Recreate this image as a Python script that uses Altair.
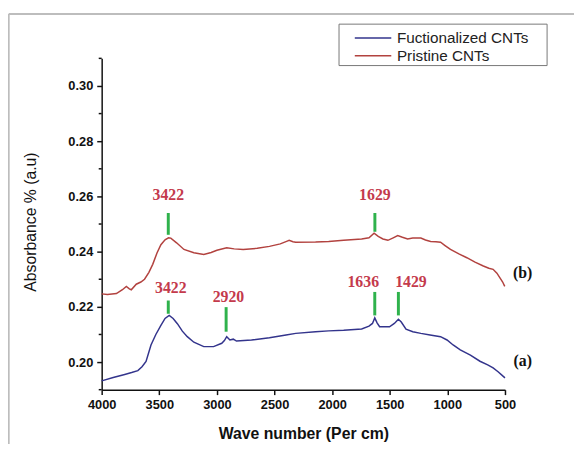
import altair as alt
import pandas as pd

# ---- data ----
red_w = [4000, 3950, 3872, 3820, 3786, 3760, 3743, 3700, 3660, 3628, 3590, 3557, 3520, 3486, 3450, 3420,
         3400, 3350, 3286, 3200, 3114, 3050, 3000, 2915, 2850, 2772, 2650, 2544, 2450, 2390, 2373, 2340,
         2316, 2144, 2030, 1900, 1744, 1680, 1636, 1600, 1559, 1516, 1470, 1431, 1390, 1345, 1300, 1230,
         1190, 1145, 1100, 1059, 1020, 973, 900, 831, 760, 688, 640, 603, 570, 545, 520, 502]
red_v = [0.2247, 0.2245, 0.2248, 0.2262, 0.2274, 0.2265, 0.2262, 0.2282, 0.2290, 0.2300, 0.2325, 0.2354,
         0.2395, 0.2425, 0.2443, 0.2450, 0.2449, 0.2432, 0.2408, 0.2396, 0.2390, 0.2397, 0.2405, 0.2414,
         0.2410, 0.2408, 0.2412, 0.2419, 0.2428, 0.2438, 0.2441, 0.2436, 0.2434, 0.2435, 0.2437, 0.2441,
         0.2446, 0.2450, 0.2467, 0.2455, 0.2446, 0.2441, 0.2450, 0.2458, 0.2452, 0.2446, 0.2449, 0.2449,
         0.2442, 0.2437, 0.2436, 0.2434, 0.2422, 0.2408, 0.2392, 0.2378, 0.2362, 0.2348, 0.2340, 0.2336,
         0.2322, 0.2306, 0.2290, 0.2274]

blue_w = [4000, 3900, 3800, 3740, 3686, 3650, 3615, 3572, 3530, 3486, 3450, 3414, 3380, 3343, 3300, 3257,
          3200, 3114, 3029, 2958, 2935, 2915, 2887, 2858, 2830, 2700, 2544, 2400, 2316, 2144, 2030, 1900,
          1744, 1680, 1650, 1630, 1610, 1588, 1502, 1460, 1425, 1400, 1359, 1300, 1230, 1150, 1059, 1003,
          950, 888, 800, 717, 650, 603, 560, 517, 500]
blue_v = [0.1932, 0.1944, 0.1955, 0.1962, 0.1969, 0.1983, 0.2002, 0.2062, 0.2100, 0.2133, 0.2158, 0.2169,
          0.2158, 0.2139, 0.2112, 0.2092, 0.2072, 0.2056, 0.2056, 0.2068, 0.2078, 0.2092, 0.2080, 0.2083,
          0.2076, 0.2080, 0.2088, 0.2098, 0.2104, 0.2110, 0.2113, 0.2115, 0.2120, 0.2130, 0.2140, 0.2160,
          0.2142, 0.2128, 0.2128, 0.2140, 0.2155, 0.2145, 0.2119, 0.2110, 0.2104, 0.2098, 0.2092, 0.2080,
          0.2062, 0.2044, 0.2025, 0.2003, 0.1990, 0.1979, 0.1965, 0.1949, 0.1943]

series_names = ["Fuctionalized CNTs", "Pristine CNTs"]
series_colors = ["#33348c", "#b2423f"]

# peak annotations
ann_text = ["3422", "1629", "3422", "2920", "1636", "1429"]
ann_w = [3422, 1629, 3422, 2920, 1630, 1425]
ann_lo = [0.2461, 0.2472, 0.2175, 0.2110, 0.2169, 0.2169]
ann_hi = [0.2540, 0.2540, 0.2223, 0.2199, 0.2254, 0.2254]
ann_label_w = [3422, 1629, 3400, 2900, 1730, 1316]
ann_label_v = [0.2604, 0.2604, 0.2267, 0.2235, 0.2291, 0.2291]

curve_tags = ["(b)", "(a)"]
curve_tag_w = [346, 346]
curve_tag_v = [0.2324, 0.2002]

x_ticks = [500, 750, 1000, 1250, 1500, 1750, 2000, 2250, 2500, 2750, 3000, 3250, 3500, 3750, 4000]
y_major = [0.20, 0.22, 0.24, 0.26, 0.28, 0.30]
y_minor = [0.19, 0.21, 0.23, 0.25, 0.27, 0.29, 0.31]

# ---- tables ----
curves = pd.concat([
    pd.DataFrame({"w": blue_w, "v": blue_v, "s": series_names[0], "o": range(len(blue_w))}),
    pd.DataFrame({"w": red_w, "v": red_v, "s": series_names[1], "o": range(len(red_w))}),
])
ann = pd.DataFrame({"t": ann_text, "w": ann_w, "lo": ann_lo, "hi": ann_hi,
                    "lw": ann_label_w, "lv": ann_label_v})
tags = pd.DataFrame({"t": curve_tags, "w": curve_tag_w, "v": curve_tag_v})
minor = pd.DataFrame({"m": y_minor})

SANS = "Liberation Sans"
SERIF = "Liberation Serif"
INK = "#111"

xscale = alt.Scale(domain=[4000, 500], nice=False, zero=False)
yscale = alt.Scale(domain=[0.19, 0.31], nice=False, zero=False)

x_axis = alt.Axis(
    values=x_ticks,
    labelExpr="datum.value % 500 === 0 ? datum.label : ''",
    format="d",
    tickSize={"condition": {"test": "datum.value % 500 !== 0", "value": 3}, "value": 5},
    title="Wave number (Per cm)",
    titleX=204.5, titleY=45, titleAlign="center", titleBaseline="middle",
    titleFont=SANS, titleFontSize=16, titleFontWeight="bold", titleColor=INK,
    labelFont=SANS, labelFontSize=13, labelFontWeight="bold", labelColor=INK,
    labelPadding=4, domainColor=INK, tickColor=INK, domainWidth=1.5, tickWidth=1.5,
    grid=False, labelFlush=False, labelOverlap=False,
)
y_axis = alt.Axis(
    values=y_major,
    format=".2f",
    tickSize=5,
    title="Absorbance % (a.u)",
    titleX=-72, titleY=165.5, titleAngle=-90, titleAlign="center", titleBaseline="middle",
    titleFont=SANS, titleFontSize=16, titleFontWeight="normal", titleColor=INK,
    labelFont=SANS, labelFontSize=13, labelFontWeight="bold", labelColor=INK,
    labelPadding=4, domainColor=INK, tickColor=INK, domainWidth=1.5, tickWidth=1.5,
    grid=False, labelFlush=False, labelOverlap=False,
)

lines = alt.Chart(curves).mark_line(strokeWidth=1.5).encode(
    x=alt.X("w:Q", scale=xscale, axis=x_axis),
    y=alt.Y("v:Q", scale=yscale, axis=y_axis),
    order="o:Q",
    color=alt.Color("s:N", scale=alt.Scale(domain=series_names, range=series_colors), legend=None),
)

# minor ticks on the y axis
minor_ticks = alt.Chart(minor).mark_rule(color=INK, strokeWidth=1.5).encode(
    x=alt.value(-3), x2=alt.value(0), y=alt.Y("m:Q", scale=yscale))

markers = alt.Chart(ann).mark_rule(color="#2fb24c", strokeWidth=3).encode(
    x=alt.X("w:Q", scale=xscale), y=alt.Y("lo:Q", scale=yscale), y2="hi:Q")

labels = alt.Chart(ann).mark_text(font=SERIF, fontWeight="bold", fontSize=16,
                                  color="#c43a4c", baseline="middle", align="center").encode(
    x=alt.X("lw:Q", scale=xscale), y=alt.Y("lv:Q", scale=yscale), text="t:N")

tag_text = alt.Chart(tags).mark_text(font=SERIF, fontWeight="bold", fontSize=16,
                                     color=INK, baseline="middle", align="center").encode(
    x=alt.X("w:Q", scale=xscale), y=alt.Y("v:Q", scale=yscale), text="t:N")

one = pd.DataFrame({"k": [0]})
frame_top = alt.Chart(one).mark_rule(color="#bdbdbd", strokeWidth=2).encode(
    x=alt.value(-94.3), x2=alt.value(479), y=alt.value(-45))
frame_left = alt.Chart(one).mark_rule(color="#bdbdbd", strokeWidth=2).encode(
    x=alt.value(-94.3), y=alt.value(-45), y2=alt.value(400))

# manual legend (box, line samples, labels)
leg_box = alt.Chart(one).mark_rect(fill="white", stroke="#777", strokeWidth=1).encode(
    x=alt.value(240.7), x2=alt.value(451.7), y=alt.value(-34.7), y2=alt.value(7.3))
leg_layers = []
for i, (name, col) in enumerate(zip(series_names, series_colors)):
    ry = -20.7 + 18 * i
    leg_layers.append(alt.Chart(one).mark_rule(color=col, strokeWidth=1.5).encode(
        x=alt.value(256.7), x2=alt.value(293.7), y=alt.value(ry)))
    leg_layers.append(alt.Chart(one).mark_text(font=SANS, fontSize=15.5, color="#222",
                                               align="left", baseline="middle").encode(
        x=alt.value(299.4), y=alt.value(ry), text=alt.value(name)))

chart = alt.layer(lines, minor_ticks, markers, labels, tag_text,
                  frame_top, frame_left, leg_box, *leg_layers).properties(
    width=409, height=336,
    autosize=alt.AutoSizeParams(type="none"),
    padding={"left": 95, "top": 48, "right": 70, "bottom": 52},
).configure_view(stroke=None)

chart.save("out.html", embed_options={"renderer": "svg", "actions": False})
